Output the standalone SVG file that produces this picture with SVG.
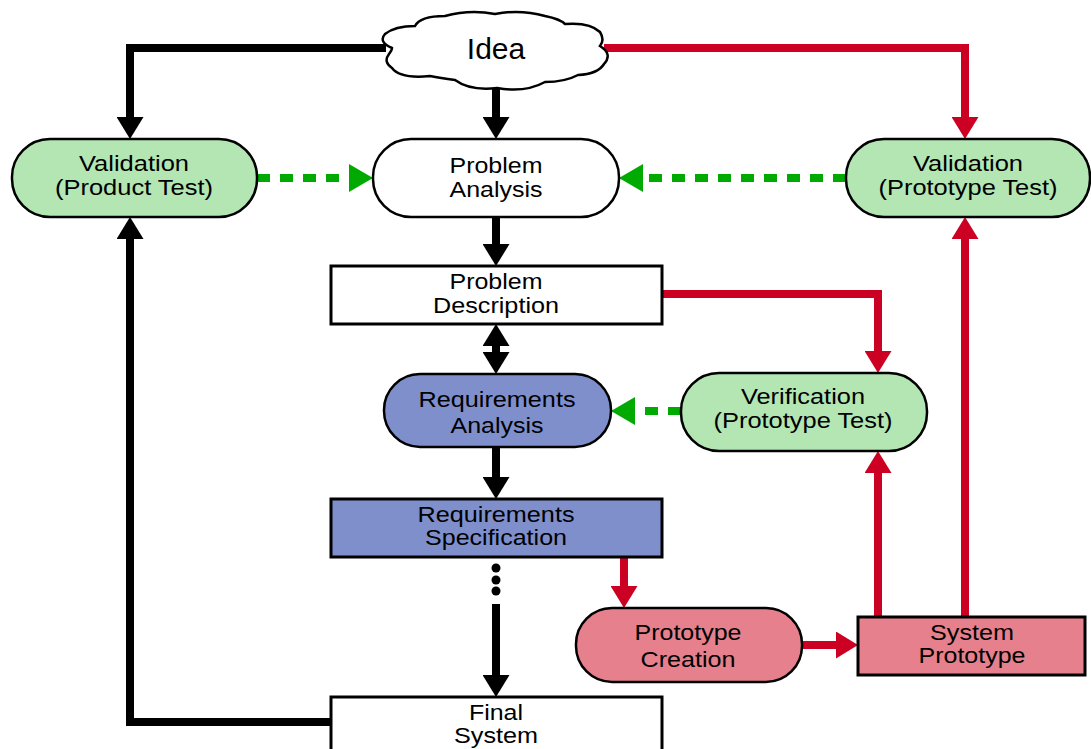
<svg xmlns="http://www.w3.org/2000/svg" width="1091" height="749" viewBox="0 0 1091 749">
<style>
.t{font-family:"Liberation Sans",Arial,sans-serif;font-size:22px;fill:#000;text-anchor:middle}
.n{stroke:#000;stroke-width:2.5}
.b{stroke:#000;stroke-width:3}
.k{fill:none;stroke:#000;stroke-width:8}
.r{fill:none;stroke:#cc0022;stroke-width:8}
.g{fill:none;stroke:#00aa00;stroke-width:8;stroke-dasharray:13 10}
</style>
<defs>
<marker id="ak" markerUnits="userSpaceOnUse" viewBox="0 0 22 27" refX="0" refY="13.5" markerWidth="22" markerHeight="27" orient="auto-start-reverse"><path d="M0,0 L22,13.5 L0,27 Z" fill="#000"/></marker>
<marker id="ar" markerUnits="userSpaceOnUse" viewBox="0 0 22 27" refX="0" refY="13.5" markerWidth="22" markerHeight="27" orient="auto"><path d="M0,0 L22,13.5 L0,27 Z" fill="#cc0022"/></marker>
<marker id="ag" markerUnits="userSpaceOnUse" viewBox="0 0 24 28" refX="0" refY="14" markerWidth="24" markerHeight="28" orient="auto"><path d="M0,0 L24,14 L0,28 Z" fill="#00aa00"/></marker>
</defs>
<rect width="1091" height="749" fill="#fff"/>
<g id="connectors">
<path class="k" d="M386,48 H130 V117" marker-end="url(#ak)"/>
<path class="k" d="M496,86 V117" marker-end="url(#ak)"/>
<path class="r" d="M604,48 H965 V117" marker-end="url(#ar)"/>
<path class="g" d="M257,178 H349" marker-end="url(#ag)"/>
<path class="g" d="M846,178 H643" marker-end="url(#ag)"/>
<path class="k" d="M496,217 V244" marker-end="url(#ak)"/>
<path class="k" d="M496,346 V352" marker-start="url(#ak)" marker-end="url(#ak)"/>
<path class="r" d="M662,294 H878 V351" marker-end="url(#ar)"/>
<path class="g" d="M681,411 H635" marker-end="url(#ag)"/>
<path class="k" d="M496,447 V477" marker-end="url(#ak)"/>
<circle cx="496" cy="568" r="4.5" fill="#000"/>
<circle cx="496" cy="580" r="4.5" fill="#000"/>
<circle cx="496" cy="591" r="4.5" fill="#000"/>
<path class="k" d="M496,604 V675" marker-end="url(#ak)"/>
<path class="r" d="M624,557 V586" marker-end="url(#ar)"/>
<path class="r" d="M802,645 H836" marker-end="url(#ar)"/>
<path class="r" d="M878,617 V473" marker-end="url(#ar)"/>
<path class="r" d="M965,617 V239" marker-end="url(#ar)"/>
<path class="k" d="M331,722 H130 V239" marker-end="url(#ak)"/>
</g>
<g id="idea">
<path class="n" fill="#fff" d="M385,34 Q395,26 415,26 Q420,16 445,16 Q470,9 495,14 Q520,9 545,16 Q560,19 565,24 Q590,22 600,32 Q605,40 600,46 Q613,54 604,64 Q598,74 578,75 Q565,82 545,82 Q525,93 497,88 Q470,91 455,80 Q440,78 430,76 Q400,79 392,68 Q383,62 389,54 Q392,50 392,48 Q378,42 385,34 Z"/>
<text class="t" x="496" y="59" style="font-size:30px">Idea</text>
</g>
<g id="val-product">
<rect class="n" x="12" y="139" width="245" height="78" rx="38" fill="#b3e6b3"/>
<text class="t" x="134" y="171" textLength="110" lengthAdjust="spacingAndGlyphs">Validation</text>
<text class="t" x="134" y="195" textLength="158" lengthAdjust="spacingAndGlyphs">(Product Test)</text>
</g>
<g id="problem-analysis">
<rect class="n" x="373" y="139" width="246" height="78" rx="38" fill="#fff"/>
<text class="t" x="496" y="173" textLength="93" lengthAdjust="spacingAndGlyphs">Problem</text>
<text class="t" x="496" y="197" textLength="93" lengthAdjust="spacingAndGlyphs">Analysis</text>
</g>
<g id="val-prototype">
<rect class="n" x="846" y="139" width="244" height="78" rx="38" fill="#b3e6b3"/>
<text class="t" x="968" y="171" textLength="110" lengthAdjust="spacingAndGlyphs">Validation</text>
<text class="t" x="968" y="195" textLength="179" lengthAdjust="spacingAndGlyphs">(Prototype Test)</text>
</g>
<g id="problem-description">
<rect class="b" x="331" y="266" width="331" height="58" fill="#fff"/>
<text class="t" x="496" y="289" textLength="93" lengthAdjust="spacingAndGlyphs">Problem</text>
<text class="t" x="496" y="313" textLength="126" lengthAdjust="spacingAndGlyphs">Description</text>
</g>
<g id="req-analysis">
<rect class="n" x="384" y="374" width="227" height="73" rx="36" fill="#7f8fcc"/>
<text class="t" x="497" y="407" textLength="157" lengthAdjust="spacingAndGlyphs">Requirements</text>
<text class="t" x="497" y="433" textLength="93" lengthAdjust="spacingAndGlyphs">Analysis</text>
</g>
<g id="verification">
<rect class="n" x="681" y="373" width="246" height="78" rx="38" fill="#b3e6b3"/>
<text class="t" x="803" y="404" textLength="124" lengthAdjust="spacingAndGlyphs">Verification</text>
<text class="t" x="803" y="428" textLength="179" lengthAdjust="spacingAndGlyphs">(Prototype Test)</text>
</g>
<g id="req-spec">
<rect class="b" x="331" y="499" width="331" height="58" fill="#7f8fcc"/>
<text class="t" x="496" y="522" textLength="157" lengthAdjust="spacingAndGlyphs">Requirements</text>
<text class="t" x="496" y="545" textLength="142" lengthAdjust="spacingAndGlyphs">Specification</text>
</g>
<g id="prototype-creation">
<rect class="n" x="576" y="608" width="226" height="74" rx="36" fill="#e6808c"/>
<text class="t" x="688" y="640" textLength="107" lengthAdjust="spacingAndGlyphs">Prototype</text>
<text class="t" x="688" y="667" textLength="95" lengthAdjust="spacingAndGlyphs">Creation</text>
</g>
<g id="system-prototype">
<rect class="b" x="858" y="617" width="227" height="58" fill="#e6808c"/>
<text class="t" x="972" y="640" textLength="84" lengthAdjust="spacingAndGlyphs">System</text>
<text class="t" x="972" y="663" textLength="107" lengthAdjust="spacingAndGlyphs">Prototype</text>
</g>
<g id="final-system">
<rect class="b" x="331" y="697" width="331" height="60" fill="#fff"/>
<text class="t" x="496" y="720" textLength="54" lengthAdjust="spacingAndGlyphs">Final</text>
<text class="t" x="496" y="743" textLength="84" lengthAdjust="spacingAndGlyphs">System</text>
</g>
</svg>
